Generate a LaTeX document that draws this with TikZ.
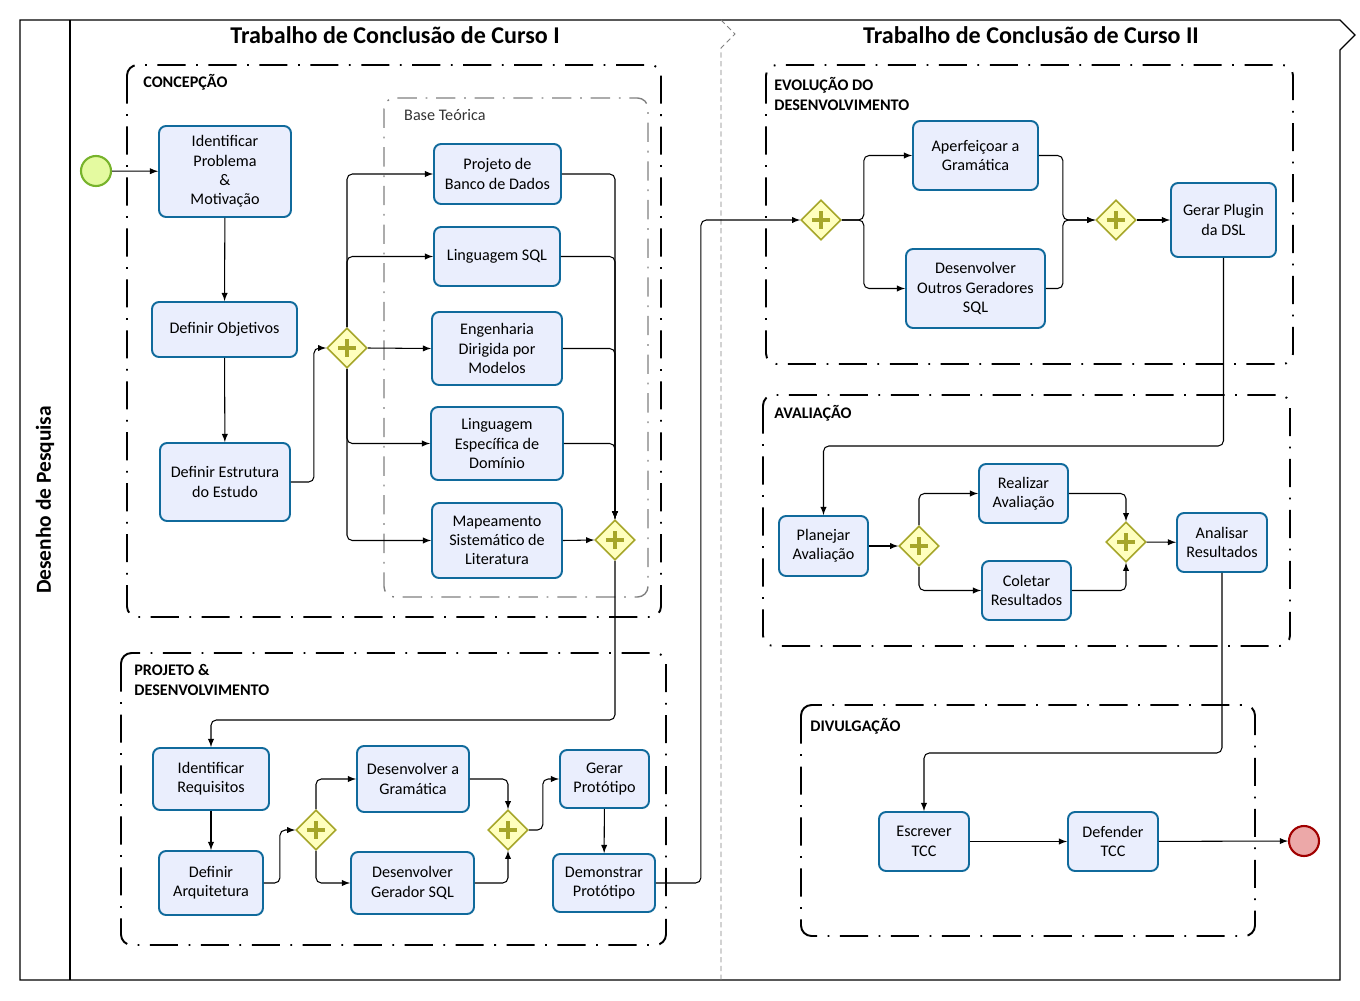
\documentclass[tikz,border=0pt]{standalone}
\usepackage{fontspec}
\setmainfont{Carlito}
\usetikzlibrary{shapes.geometric}

\definecolor{tarefafill}{RGB}{234,238,253}
\definecolor{tarefadraw}{RGB}{16,106,156}
\definecolor{portafill}{RGB}{255,255,190}
\definecolor{portadraw}{RGB}{166,166,42}
\definecolor{iniciofill}{RGB}{228,250,160}
\definecolor{iniciodraw}{RGB}{119,179,43}
\definecolor{fimfill}{RGB}{236,168,168}
\definecolor{fimdraw}{RGB}{160,0,0}

\tikzset{
	tarefa/.style={draw=tarefadraw,fill=tarefafill,line width=1.1pt,rounded corners=4pt,
		align=center,inner sep=2pt,font=\fontsize{9.2}{11}\selectfont},
	porta/.style={diamond,draw=portadraw,fill=portafill,line width=0.9pt,
		minimum width=0.8cm,minimum height=0.8cm,inner sep=0pt,
		path picture={
			\fill[portadraw] ([xshift=-5pt,yshift=-1.4pt]path picture bounding box.center) rectangle ([xshift=5pt,yshift=1.4pt]path picture bounding box.center);
			\fill[portadraw] ([xshift=-1.4pt,yshift=-5pt]path picture bounding box.center) rectangle ([xshift=1.4pt,yshift=5pt]path picture bounding box.center);}},
	evento/.style={circle,line width=1.2pt,minimum size=0.6cm,inner sep=0pt},
	seta/.style={-latex,line width=0.6pt,rounded corners=3pt},
	grupo/.style={line width=1.1pt,rounded corners=6pt,dash pattern=on 16pt off 6pt on 1pt off 6pt},
	grupobase/.style={gray,line width=0.8pt,rounded corners=6pt,dash pattern=on 11pt off 5pt on 1pt off 5pt},
	rotulo/.style={anchor=north west,inner sep=0pt,align=left,font=\fontsize{9.2}{11.3}\selectfont\bfseries},
	titulo/.style={font=\fontsize{13.7}{15}\selectfont\bfseries}
}

\begin{document}
\begin{tikzpicture}[x=0.02cm,y=-0.02cm]
	\useasboundingbox (0,0) rectangle (1360,1001);

	% pool, raia e fases
	\draw[line width=0.7pt] (20,20) -- (1340,20) -- (1355,35) -- (1340,50) -- (1340,980) -- (20,980) -- cycle;
	\draw[line width=0.7pt] (70,20) -- (70,980);
	\draw[gray,line width=0.5pt,dash pattern=on 3pt off 2pt] (721,20) -- (735,34) -- (721,48) -- (721,980);
	\node[rotate=90,font=\fontsize{12.2}{14}\selectfont\bfseries] (raia) at (45,500) {Desenho de Pesquisa};
	\node[titulo] (tcc1) at (395,35) {Trabalho de Conclusão de Curso I};
	\node[titulo] (tcc2) at (1031,35) {Trabalho de Conclusão de Curso II};

	% grupos
	\draw[grupo] (127,65) rectangle (661,617);
	\node[rotulo] at (143,74) {CONCEPÇÃO};
	\draw[grupobase] (384,98) rectangle (648,597);
	\node[anchor=west,font=\fontsize{9.2}{11}\selectfont,text=black!80] at (398,115) {Base Teórica};
	\draw[grupo] (121,653) rectangle (666,945);
	\node[rotulo] at (134,664) {PROJETO \&\\DESENVOLVIMENTO};
	\draw[grupo] (766,65) rectangle (1293,364);
	\node[rotulo] at (774,77) {EVOLUÇÃO DO\\DESENVOLVIMENTO};
	\draw[grupo] (763,395) rectangle (1290,646);
	\node[rotulo] at (774,405) {AVALIAÇÃO};
	\draw[grupo] (801,705) rectangle (1255,936);
	\node[rotulo] at (810,718) {DIVULGAÇÃO};

	% concepcao
	\node[evento,draw=iniciodraw,fill=iniciofill] (ini) at (96,171) {};
	\node[tarefa,minimum width=2.64cm,minimum height=1.82cm] (prob) at (225,171.5) {Identificar\\Problema\\\&\\Motivação};
	\node[tarefa,minimum width=2.9cm,minimum height=1.1cm] (obj) at (224.5,329.5) {Definir Objetivos};
	\node[tarefa,minimum width=2.6cm,minimum height=1.56cm] (estr) at (225,482) {Definir Estrutura\\do Estudo};
	\node[porta] (g1) at (347,348) {};
	\node[tarefa,minimum width=2.54cm,minimum height=1.2cm] (bd) at (497.5,174) {Projeto de\\Banco de Dados};
	\node[tarefa,minimum width=2.52cm,minimum height=1.18cm] (sql) at (497,256.5) {Linguagem SQL};
	\node[tarefa,minimum width=2.6cm,minimum height=1.46cm] (mde) at (497,348.5) {Engenharia\\Dirigida por\\Modelos};
	\node[tarefa,minimum width=2.64cm,minimum height=1.46cm] (dsl) at (497,443.5) {Linguagem\\Específica de\\Domínio};
	\node[tarefa,minimum width=2.6cm,minimum height=1.5cm] (msl) at (497,540.5) {Mapeamento\\Sistemático de\\Literatura};
	\node[porta] (g2) at (615,540) {};

	\draw[seta] (ini) -- (prob);
	\draw[seta] (prob) -- (obj);
	\draw[seta] (obj) -- (estr);
	\draw[seta] (estr.east) -- ++(23,0) |- (g1.west);
	\draw[seta] (g1.north) |- (bd.west);
	\draw[seta] (g1.north) |- (sql.west);
	\draw[seta] (g1.east) -- (mde.west);
	\draw[seta] (g1.south) |- (dsl.west);
	\draw[seta] (g1.south) |- (msl.west);
	\draw[seta] (bd.east) -| (g2.north);
	\draw[seta] (sql.east) -| (g2.north);
	\draw[seta] (mde.east) -| (g2.north);
	\draw[seta] (dsl.east) -| (g2.north);
	\draw[seta] (msl.east) -- (g2.west);

	% projeto e desenvolvimento
	\node[tarefa,minimum width=2.32cm,minimum height=1.24cm] (req) at (211,779) {Identificar\\Requisitos};
	\node[tarefa,minimum width=2.08cm,minimum height=1.28cm] (arq) at (211,883) {Definir\\Arquitetura};
	\node[porta] (g3) at (316,830) {};
	\node[tarefa,minimum width=2.24cm,minimum height=1.32cm] (gram) at (413,779) {Desenvolver a\\Gramática};
	\node[tarefa,minimum width=2.46cm,minimum height=1.24cm] (ger) at (412.5,883) {Desenvolver\\Gerador SQL};
	\node[porta] (g4) at (508,830) {};
	\node[tarefa,minimum width=1.78cm,minimum height=1.16cm] (prot) at (604.5,779) {Gerar\\Protótipo};
	\node[tarefa,minimum width=2.04cm,minimum height=1.16cm] (demo) at (604,883) {Demonstrar\\Protótipo};

	\draw[seta] (g2.south) |- (req.north |- 0,720) -- (req.north);
	\draw[seta] (req) -- (arq);
	\draw[seta] (arq.east) -- ++(16,0) |- (g3.west);
	\draw[seta] (g3.north) |- (gram.west);
	\draw[seta] (g3.south) |- (ger.west);
	\draw[seta] (gram.east) -| (g4.north);
	\draw[seta] (ger.east) -| (g4.south);
	\draw[seta] (g4.east) -- ++(14,0) |- (prot.west);
	\draw[seta] (prot) -- (demo);

	% evolucao do desenvolvimento
	\node[porta] (g5) at (821,220) {};
	\node[tarefa,minimum width=2.5cm,minimum height=1.38cm] (aperf) at (975.5,155.5) {Aperfeiçoar a\\Gramática};
	\node[tarefa,minimum width=2.78cm,minimum height=1.58cm] (outros) at (975.5,288.5) {Desenvolver\\Outros Geradores\\SQL};
	\node[porta] (g6) at (1116,220) {};
	\node[tarefa,minimum width=2.1cm,minimum height=1.48cm] (plugin) at (1223.5,220) {Gerar Plugin\\da DSL};

	\draw[seta] (demo.east) -- ++(45,0) |- (g5.west);
	\draw[seta] (g5.east) -- ++(22,0) |- (aperf.west);
	\draw[seta] (g5.east) -- ++(22,0) |- (outros.west);
	\draw[seta] (aperf.east) -- ++(24,0) |- (g6.west);
	\draw[seta] (outros.east) -- ++(17,0) |- (g6.west);
	\draw[seta] (g6) -- (plugin);

	% avaliacao
	\node[tarefa,minimum width=1.78cm,minimum height=1.2cm] (plan) at (823.5,546) {Planejar\\Avaliação};
	\node[porta] (g7) at (919,546) {};
	\node[tarefa,minimum width=1.78cm,minimum height=1.18cm] (real) at (1023.5,493.5) {Realizar\\Avaliação};
	\node[tarefa,minimum width=1.78cm,minimum height=1.18cm] (colet) at (1026.5,590.5) {Coletar\\Resultados};
	\node[porta] (g8) at (1126,542) {};
	\node[tarefa,minimum width=1.8cm,minimum height=1.18cm] (anal) at (1222,542.5) {Analisar\\Resultados};

	\draw[seta] (plugin.south) |- (plan.north |- 0,446) -- (plan.north);
	\draw[seta] (plan) -- (g7);
	\draw[seta] (g7.north) |- (real.west);
	\draw[seta] (g7.south) |- (colet.west);
	\draw[seta] (real.east) -| (g8.north);
	\draw[seta] (colet.east) -| (g8.south);
	\draw[seta] (g8) -- (anal);

	% divulgacao
	\node[tarefa,minimum width=1.8cm,minimum height=1.18cm] (escr) at (924,841.5) {Escrever\\TCC};
	\node[tarefa,minimum width=1.8cm,minimum height=1.18cm] (def) at (1113,841.5) {Defender\\TCC};
	\node[evento,draw=fimdraw,fill=fimfill] (fim) at (1304,841) {};

	\draw[seta] (anal.south) |- (escr.north |- 0,753) -- (escr.north);
	\draw[seta] (escr) -- (def);
	\draw[seta] (def) -- (fim);
\end{tikzpicture}
\end{document}
